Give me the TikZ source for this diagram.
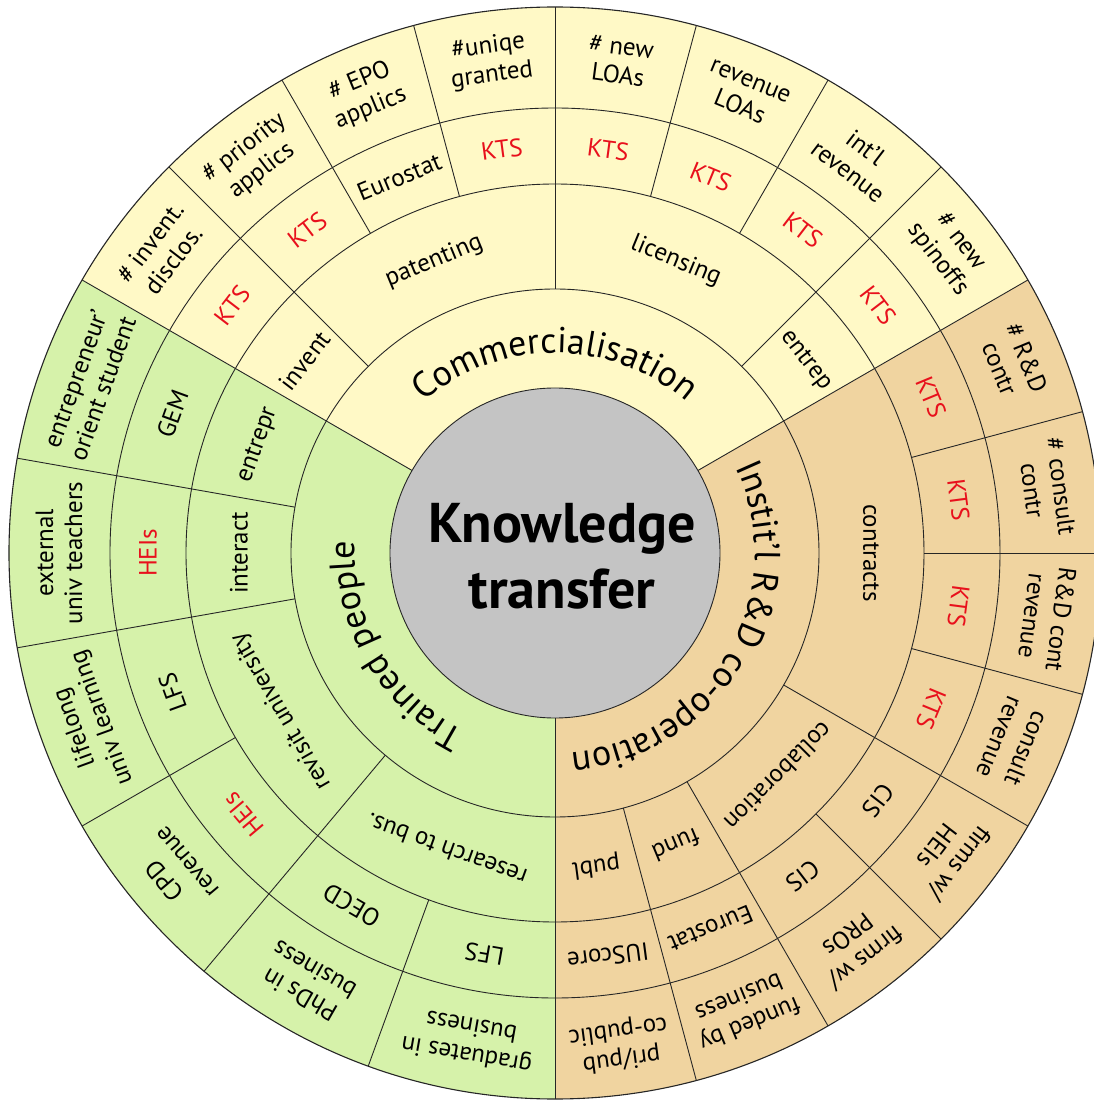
\documentclass[tikz,border=0pt]{standalone}
\usepackage{fontspec}
\setmainfont{PT Sans}
\usetikzlibrary{decorations.text}
\definecolor{yelfill}{HTML}{FFF9C6}
\definecolor{grnfill}{HTML}{D6F2AA}
\definecolor{tanfill}{HTML}{F0D4A0}
\definecolor{ctrfill}{HTML}{C4C4C4}
\definecolor{ktsred}{HTML}{E8101C}
\newcommand\catfont{\fontsize{36}{40}\selectfont}
\begin{document}
\begin{tikzpicture}[x=1pt,y=1pt,
  sepline/.style={draw=black!85, line width=0.9pt},
  small/.style={font=\fontsize{25}{29}\selectfont, align=center, inner sep=0pt},
  cattext/.style={decorate, decoration={text along path, text align=center, text={|\catfont|#1}}}
  ]
\useasboundingbox (-555,-547) rectangle (539,553);
% sectors
\fill[yelfill] (0,0) -- (30:546) arc[start angle=30,end angle=150,radius=546] -- cycle;
\fill[grnfill] (0,0) -- (150:546) arc[start angle=150,end angle=270,radius=546] -- cycle;
\fill[tanfill] (0,0) -- (-90:546) arc[start angle=-90,end angle=30,radius=546] -- cycle;
% rings
\foreach \r in {264,369,445} \draw[sepline] (0,0) circle[radius=\r];
\draw[sepline, line width=1.1pt] (0,0) circle[radius=546];
% radial separators
\foreach \a in {30,150,270} \draw[sepline] (\a:165) -- (\a:546);
\foreach \a in {135,90,45,-30,-60,-75,170,190,230} \draw[sepline] (\a:264) -- (\a:546);
\foreach \a in {120,105,75,60,15,0,-15,-45,210,250} \draw[sepline] (\a:369) -- (\a:546);
% centre
\fill[ctrfill] (0,0) circle[radius=165];
\draw[sepline] (0,0) circle[radius=165];
\node[font=\bfseries\fontsize{56}{66}\selectfont, align=center, inner sep=0pt] (kt) at (7,-3) {Knowledge\\transfer};
% category labels
\path[cattext={Commercialisation}] (170:200) arc[start angle=170, end angle=10, radius=200];
\path[cattext={Trained people}] (290:200) arc[start angle=290, end angle=130, radius=200];
\path[cattext={Instit’l R{\&}D co-operation}] (40:200) arc[start angle=40, end angle=-100, radius=200];
% sub-category ring
\foreach \a/\t [count=\i] in {142.5/invent, 112.5/patenting, 67.5/licensing, 37.5/entrep,
   0/contracts, -45/collaboration, -67.5/fund, -82.5/publ,
   160/entrepr, 180/interact, 210/{revisit university}, 250/{research to bus.}}
  \node[small, rotate=\a-90] (sub\i) at (\a:316) {\t};
% source ring
\foreach \a/\t/\c [count=\i] in {142.5/KTS/ktsred, 127.5/KTS/ktsred, 112.5/Eurostat/black, 97.5/KTS/ktsred,
   82.5/KTS/ktsred, 67.5/KTS/ktsred, 52.5/KTS/ktsred, 37.5/KTS/ktsred,
   22.5/KTS/ktsred, 7.5/KTS/ktsred, -7.5/KTS/ktsred, -22.5/KTS/ktsred,
   -37.5/CIS/black, -52.5/CIS/black, -67.5/Eurostat/black, -82.5/IUScore/black,
   160/GEM/black, 180/HEIs/ktsred, 200/LFS/black, 220/HEIs/ktsred, 240/OECD/black, 260/LFS/black}
  \node[small, text=\c, rotate=\a-90] (src\i) at (\a:407) {\t};
% indicator ring
\foreach \a/\t [count=\i] in {
   142.5/{\# invent.\\disclos.}, 127.5/{\# priority\\applics}, 112.5/{\# EPO\\applics},
   97.5/{\#uniqe\\granted}, 82.5/{\# new\\LOAs}, 67.5/{revenue\\LOAs},
   52.5/{int’l\\revenue}, 37.5/{\# new\\spinoffs},
   22.5/{\# R\&D\\contr}, 7.5/{\# consult\\contr}, -7.5/{R\&D cont\\revenue},
   -22.5/{consult\\revenue}, -37.5/{firms w/\\HEIs}, -52.5/{firms w/\\PROs},
   -67.5/{funded by\\business}, -82.5/{pri/pub\\co-public},
   160/{entrepreneur’\\orient student}, 180/{external\\univ teachers},
   200/{lifelong\\univ learning}, 220/{CPD\\revenue}, 240/{PhDs in\\business},
   260/{graduates in\\business}}
  \node[small, rotate=\a-90] (ind\i) at (\a:496) {\t};
\end{tikzpicture}
\end{document}
